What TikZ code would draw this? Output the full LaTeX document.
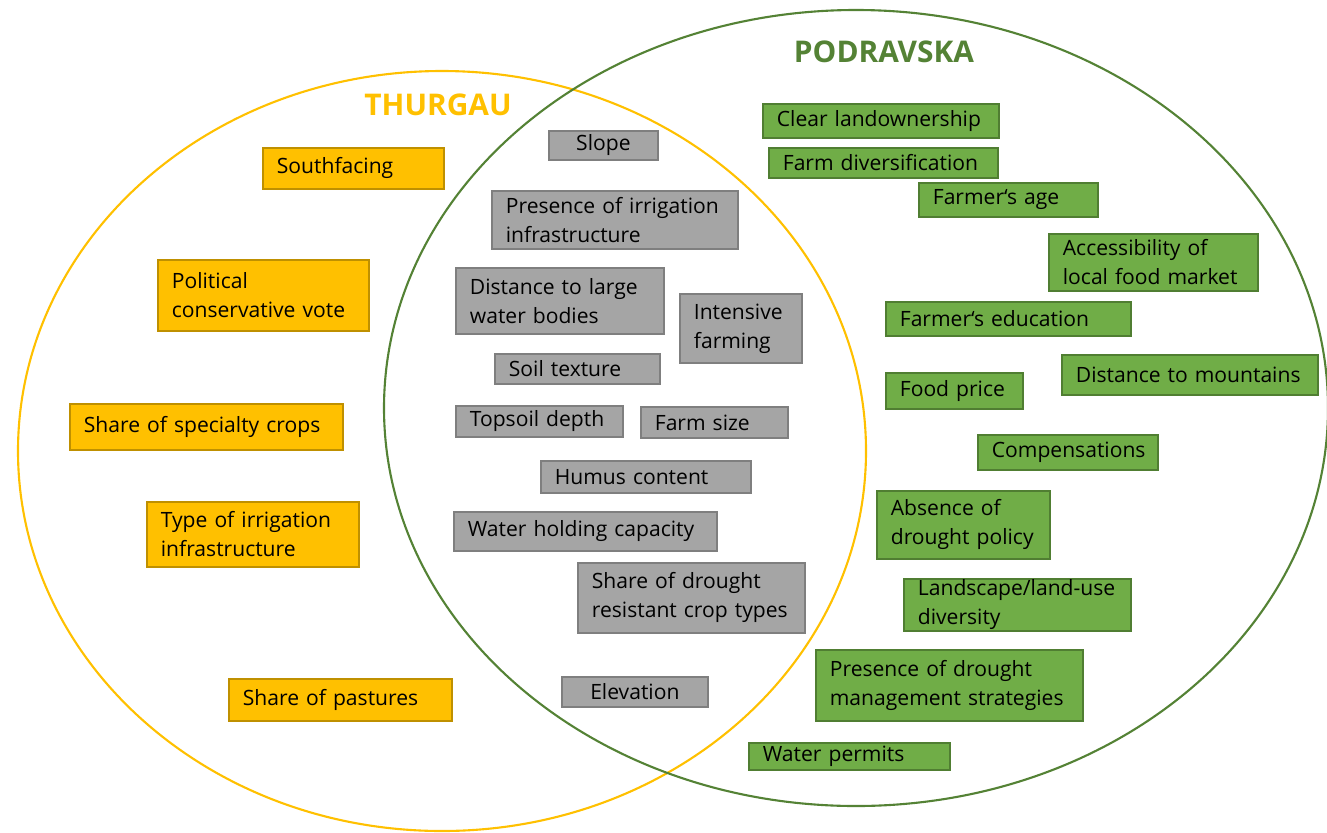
\documentclass[tikz,border=0pt]{standalone}
\usepackage{fontspec}
\setmainfont{Open Sans}
\definecolor{thuryellow}{HTML}{FFC000}
\definecolor{thuredge}{HTML}{BF9000}
\definecolor{podgreen}{HTML}{70AD47}
\definecolor{podedge}{HTML}{507E32}
\definecolor{podline}{HTML}{548235}
\definecolor{bothgray}{HTML}{A5A5A5}
\definecolor{bothedge}{HTML}{7F7F7F}

\begin{document}
\begin{tikzpicture}[x=0.02cm,y=-0.02cm,font=\fontsize{12}{16.5}\selectfont,
  factor/.style={draw,line width=1pt,anchor=north west,inner xsep=2.8mm,inner ysep=0pt,align=left},
  thur/.style={factor,fill=thuryellow,draw=thuredge},
  both/.style={factor,fill=bothgray,draw=bothedge},
  pod/.style={factor,fill=podgreen,draw=podedge},
  title/.style={font=\fontsize{17}{20}\selectfont\bfseries}]
  \useasboundingbox (0,0) rectangle (1327,832);

  % the two regions
  \draw[thuryellow,line width=1.2pt] (442,451) ellipse [x radius=424,y radius=380];
  \draw[podline,line width=1.2pt] (856,408) ellipse [x radius=472,y radius=398];
  \node[title,text=thuryellow] (thurgau) at (438,105) {THURGAU};
  \node[title,text=podline] (podravska) at (884,52) {PODRAVSKA};

  % Thurgau only
  \node[thur,text width=30.6mm,minimum height=8.2mm] (south) at (262,147) {Southfacing};
  \node[thur,text width=36.6mm,minimum height=14.2mm] (vote) at (157,259) {Political\\conservative vote};
  \node[thur,text width=49.0mm,minimum height=9.2mm] (special) at (69,403) {Share of specialty crops};
  \node[thur,text width=36.8mm,minimum height=13.0mm] (irrtype) at (146,501) {Type of irrigation\\infrastructure};
  \node[thur,text width=39.0mm,minimum height=8.4mm] (pasture) at (228,678) {Share of pastures};

  % both
  \node[both,text width=16.2mm,minimum height=5.8mm,align=center] (slope) at (548,130) {Slope};
  \node[both,text width=43.6mm,minimum height=11.6mm] (irrpres) at (491,190) {Presence of irrigation\\infrastructure};
  \node[both,text width=36.0mm,minimum height=13.2mm] (waterdist) at (455,267) {Distance to large\\water bodies};
  \node[both,text width=18.8mm,minimum height=13.8mm] (intensive) at (679,293) {Intensive\\farming};
  \node[both,text width=27.4mm,minimum height=6.0mm] (soil) at (494,353) {Soil texture};
  \node[both,text width=27.8mm,minimum height=6.2mm] (topsoil) at (455,405) {Topsoil depth};
  \node[both,text width=23.8mm,minimum height=6.2mm] (farmsize) at (640,406) {Farm size};
  \node[both,text width=36.4mm,minimum height=6.4mm] (humus) at (540,460) {Humus content};
  \node[both,text width=47.0mm,minimum height=7.8mm] (holding) at (453,511) {Water holding capacity};
  \node[both,text width=39.8mm,minimum height=14.0mm] (croptypes) at (577,562) {Share of drought\\resistant crop types};
  \node[both,text width=23.6mm,minimum height=6.0mm,align=center] (elev) at (561,676) {Elevation};

  % Podravska only
  \node[pod,text width=41.6mm,minimum height=6.8mm] (landown) at (762,103) {Clear landownership};
  \node[pod,text width=40.2mm,minimum height=6.0mm] (diversif) at (768,147) {Farm diversification};
  \node[pod,text width=30.2mm,minimum height=6.8mm] (age) at (918,182) {Farmer‘s age};
  \node[pod,text width=36.2mm,minimum height=11.4mm] (market) at (1048,233) {Accessibility of\\local food market};
  \node[pod,text width=43.4mm,minimum height=6.8mm] (educ) at (885,301) {Farmer‘s education};
  \node[pod,text width=21.8mm,minimum height=7.2mm] (price) at (885,372) {Food price};
  \node[pod,text width=45.6mm,minimum height=8.0mm] (mountains) at (1061,354) {Distance to mountains};
  \node[pod,text width=30.4mm,minimum height=7.0mm] (compens) at (977,434) {Compensations};
  \node[pod,text width=29.0mm,minimum height=13.6mm] (policy) at (876,490) {Absence of\\drought policy};
  \node[pod,text width=39.8mm,minimum height=10.4mm] (landscape) at (903,578) {Landscape/land-use\\diversity};
  \node[pod,text width=47.8mm,minimum height=14.2mm] (strategies) at (815,649) {Presence of drought\\management strategies};
  \node[pod,text width=34.6mm,minimum height=5.4mm] (permits) at (748,742) {Water permits};
\end{tikzpicture}
\end{document}
